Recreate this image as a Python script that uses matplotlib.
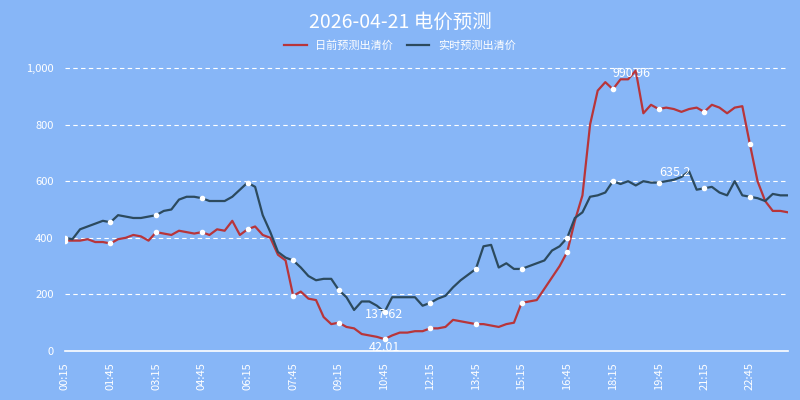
import matplotlib
matplotlib.use("Agg")
import matplotlib.pyplot as plt
import numpy as np

plt.rcParams['font.family'] = ['Noto Sans CJK SC', 'DejaVu Sans']

times = []
for k in range(96):
    m = (k + 1) * 15
    times.append(f"{m//60:02d}:{m%60:02d}")

day_ahead = [390,390,390,395,385,385, 380,395,400,410,405,390, 420,415,410,425,420,415,
             420,410,430,425,460,410, 430,440,410,400,340,320, 195,210,185,180,120,95,
             100,85,80,60,55,50, 42.01,55,65,65,70,70, 80,80,85,110,105,100,
             95,95,90,85,95,100, 170,175,180,220,260,300, 350,460,550,800,920,950,
             925,960,960,990.96,840,870, 855,860,855,845,855,860, 845,870,860,840,860,865,
             730,600,530,495,495,490]
realtime = [400,395,430,440,450,460, 455,480,475,470,470,475, 480,495,500,535,545,545,
            540,530,530,530,545,570, 595,580,480,420,350,330, 320,295,265,250,255,255,
            215,190,145,175,175,160, 137.62,190,190,190,190,160, 170,185,195,225,250,270,
            290,370,375,295,310,290, 290,300,310,320,355,370, 400,470,490,545,550,560,
            600,590,600,585,600,595, 595,600,605,615,635.2,570, 575,580,560,550,600,550,
            545,540,530,555,550,550]

bg = '#87b6f7'
fig = plt.figure(figsize=(8, 4), dpi=100, facecolor=bg)
ax = fig.add_axes([0.081, 0.1225, 0.904, 0.7075], facecolor=bg)
x = np.arange(96)
red = '#b8353a'
dark = '#2c4a5e'
ax.plot(x, day_ahead, color=red, lw=1.6, marker='o', markevery=6, ms=3,
        mfc='white', mec='white', label='日前预测出清价', zorder=3)
ax.plot(x, realtime, color=dark, lw=1.6, marker='o', markevery=6, ms=3,
        mfc='white', mec='white', label='实时预测出清价', zorder=3)

for arr, va, dx, dy in [(day_ahead, 'max', -3, -2), (day_ahead, 'min', 0, -6),
                        (realtime, 'max', -10, -1), (realtime, 'min', 0, -2)]:
    a = np.array(arr)
    i = int(a.argmax() if va == 'max' else a.argmin())
    v = a[i]
    ax.annotate(f"{v:g}", (i, v), xytext=(dx, dy), textcoords='offset points', ha='center',
                va='center', color='white', fontsize=9, zorder=4)

ax.set_xlim(0, 95)
ax.set_ylim(0, 1000)
ax.set_yticks([0, 200, 400, 600, 800, 1000])
ax.set_yticklabels(['0', '200', '400', '600', '800', '1,000'])
ax.set_xticks(x[::6])
ax.set_xticklabels(times[::6], rotation=90)
ax.tick_params(colors='white', labelsize=8, length=0, pad=8)
for s in ax.spines.values():
    s.set_visible(False)
ax.axhline(0, color='white', lw=1.2, clip_on=False)
for yv in [200, 400, 600, 800, 1000]:
    ax.axhline(yv, color='white', lw=0.8, ls=(0, (4, 3)), zorder=1, clip_on=False)

fig.text(0.5, 0.945, '2026-04-21 电价预测', ha='center', va='center', color='white', fontsize=14)
leg = fig.legend(loc='center', bbox_to_anchor=(0.5, 0.885), ncol=2, frameon=False,
                 fontsize=8, handlelength=2, columnspacing=1.2, labelcolor='white')
for h in leg.legend_handles:
    h.set_marker('')
fig.savefig('out.png', dpi=100, facecolor=bg)
